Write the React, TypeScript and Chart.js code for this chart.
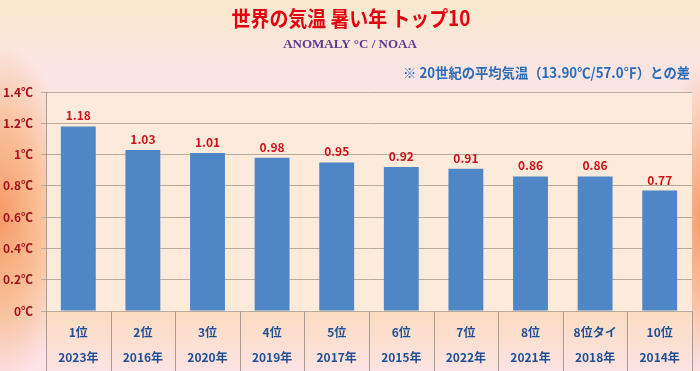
import React, { useEffect, useRef } from 'react';
import { Chart, registerables } from 'chart.js';

Chart.register(...registerables);

const ranks = ['1位', '2位', '3位', '4位', '5位', '6位', '7位', '8位', '8位タイ', '10位'];
const years = ['2023年', '2016年', '2020年', '2019年', '2017年', '2015年', '2022年', '2021年', '2018年', '2014年'];
const anomalies = [1.18, 1.03, 1.01, 0.98, 0.95, 0.92, 0.91, 0.86, 0.86, 0.77];
const yMin = 0;
const yMax = 1.4;
const yStep = 0.2;

const titleText = '世界の気温 暑い年 トップ10';
const subtitleText = 'ANOMALY °C / NOAA';
const noteText = '※ 20世紀の平均気温（13.90℃/57.0℉）との差';

const JP = '"Noto Sans CJK JP", "Noto Sans", sans-serif';

const decorPlugin = {
  id: 'decor',
  beforeDraw(chart: any) {
    const { ctx, chartArea } = chart;
    const { left, right, top, bottom } = chartArea;
    ctx.save();
    ctx.fillStyle = '#FCEADB';
    ctx.fillRect(left, top, right - left, bottom - top);
    const g = ctx.createLinearGradient(0, bottom, 0, chart.height);
    g.addColorStop(0, '#FBDCC0');
    g.addColorStop(1, '#FBE3E3');
    ctx.fillStyle = g;
    ctx.fillRect(left, bottom, right - left, chart.height - bottom);
    ctx.restore();
  },
  afterDraw(chart: any) {
    const { ctx, chartArea } = chart;
    const { left, right, top, bottom } = chartArea;
    const xs = chart.scales.x;
    ctx.save();
    ctx.strokeStyle = '#A99D95';
    ctx.lineWidth = 1;
    const n = ranks.length;
    const bounds: number[] = [];
    for (let i = 0; i <= n; i++) {
      let px;
      if (i === 0) px = left;
      else if (i === n) px = right;
      else px = (xs.getPixelForValue(i - 1) + xs.getPixelForValue(i)) / 2;
      bounds.push(Math.round(px) + 0.5);
    }
    bounds.forEach((bx, i) => {
      ctx.beginPath();
      ctx.moveTo(bx, i === 0 ? top : bottom);
      ctx.lineTo(bx, chart.height);
      ctx.stroke();
    });
    const meta = chart.getDatasetMeta(0);
    ctx.fillStyle = '#D0101A';
    ctx.font = `bold 12px ${JP}`;
    ctx.textAlign = 'center';
    ctx.textBaseline = 'alphabetic';
    meta.data.forEach((bar: any, i: number) => {
      ctx.fillText(anomalies[i].toFixed(2), bar.x, bar.y - 6);
    });
    ctx.textBaseline = 'middle';
    ctx.fillStyle = '#E3000F';
    ctx.font = `bold 21px ${JP}`;
    ctx.save();
    ctx.translate(351, 18);
    ctx.scale(0.9, 1);
    ctx.fillText(titleText, 0, 0);
    ctx.restore();
    ctx.fillStyle = '#5A3A93';
    ctx.font = 'bold 13px "Liberation Serif", "DejaVu Serif", serif';
    ctx.fillText(subtitleText, 350, 45);
    ctx.fillStyle = '#2A6CB8';
    ctx.font = `bold 14px ${JP}`;
    ctx.textAlign = 'right';
    ctx.save();
    ctx.translate(690, 73);
    ctx.scale(0.95, 1);
    ctx.fillText(noteText, 0, 0);
    ctx.restore();
    ctx.restore();
  },
};

export default function App() {
  const ref = useRef<HTMLCanvasElement | null>(null);
  useEffect(() => {
    document.body.style.margin = '0';
    const canvas = ref.current;
    if (!canvas) return;
    const chart = new Chart(canvas, {
      type: 'bar',
      data: {
        labels: ranks.map((r, i) => [r, years[i]]),
        datasets: [
          {
            data: anomalies,
            backgroundColor: '#4F86C6',
            borderWidth: 0,
            barPercentage: 0.54,
            categoryPercentage: 1,
          },
        ],
      },
      options: {
        responsive: false,
        animation: false,
        layout: { padding: { top: 92, right: 8, left: 0, bottom: 0 } },
        plugins: { legend: { display: false }, tooltip: { enabled: false }, title: { display: false } },
        scales: {
          x: {
            grid: { display: false, drawTicks: false },
            border: { display: false },
            ticks: {
              color: '#1F4E94',
              font: { family: JP, size: 12, weight: 'bold', lineHeight: 25 / 12 },
              padding: 9,
              maxRotation: 0,
              autoSkip: false,
            },
            afterFit(scale: any) {
              scale.height = 60;
            },
          },
          y: {
            min: yMin,
            max: yMax,
            ticks: {
              stepSize: yStep,
              color: '#A3121C',
              font: { family: JP, size: 12, weight: 'bold' },
              padding: 8,
              callback: (v: any) => `${Number(Number(v).toFixed(1))}℃`,
            },
            grid: { color: '#B9AA9F', lineWidth: 1, tickLength: 5 },
            border: { display: true, color: '#A99D95' },
            afterFit(scale: any) {
              scale.width = 46;
            },
          },
        },
      },
      plugins: [decorPlugin],
    } as any);
    return () => chart.destroy();
  }, []);
  return (
    <div
      style={{
        position: 'fixed',
        left: 0,
        top: 0,
        width: 700,
        height: 371,
        background:
          'radial-gradient(ellipse 75px 170px at 0px 215px, rgba(246,150,95,0.95), rgba(247,170,110,0.6) 55%, rgba(247,180,120,0) 100%),' +
          'radial-gradient(ellipse 35px 160px at 700px 220px, rgba(246,150,95,0.9), rgba(246,160,100,0) 100%),' +
          'linear-gradient(180deg, #FAE8CD 0%, #FBE5E2 18%, #FCE6E4 40%, #FBE2D8 75%, #FCE3EA 100%)',
      }}
    >
      <canvas ref={ref} width={700} height={371} style={{ display: 'block' }} />
    </div>
  );
}
